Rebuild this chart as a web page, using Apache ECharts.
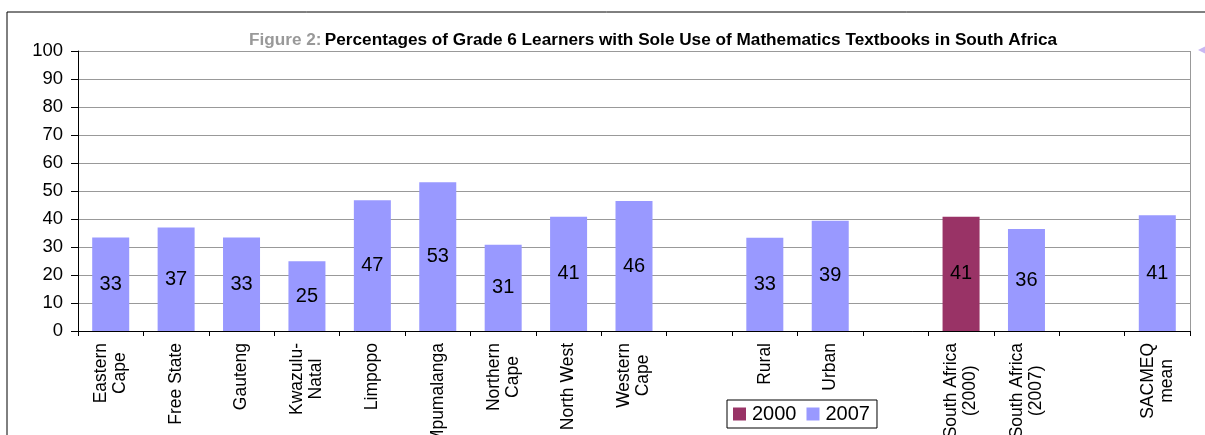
<!DOCTYPE html>
<html>
<head>
<meta charset="utf-8">
<script src="https://cdn.jsdelivr.net/npm/echarts@6/dist/echarts.min.js"></script>
<style>
html,body{margin:0;padding:0;background:#fff;}
#chart{width:1205px;height:435px;}
</style>
</head>
<body>
<div id="chart"></div>
<script>
var categories = ['Eastern\nCape','Free State','Gauteng','Kwazulu-\nNatal','Limpopo','Mpumalanga','Northern\nCape','North West','Western\nCape',' ','Rural','Urban','  ','South Africa\n(2000)','South Africa\n(2007)','   ','SACMEQ\nmean'];
var values2000 = [null,null,null,null,null,null,null,null,null,null,null,null,null,40.8,null,null,null];
var values2007 = [33.4,37.0,33.4,24.9,46.7,53.1,30.8,40.8,46.4,null,33.3,39.4,null,null,36.4,null,41.3];
var yTicks = [0,10,20,30,40,50,60,70,80,90,100];
var seriesNames = ['2000','2007'];

var FONT = '"Liberation Sans", Arial, sans-serif';
var chart = echarts.init(document.getElementById('chart'));
var labelOpt = {
  show: true, position: 'inside', color: '#000', fontSize: 20, fontFamily: FONT,
  formatter: function (p) { return p.value == null ? '' : String(Math.round(p.value)); }
};
chart.setOption({
  animation: false,
  textStyle: { fontFamily: FONT },
  graphic: [
    { type: 'rect', shape: { x: 7, y: 12, width: 1400, height: 600 }, style: { fill: 'none', stroke: '#000', lineWidth: 1 }, silent: true },
    { type: 'polygon', shape: { points: [[1198, 50], [1205, 46.5], [1205, 53.5]] }, style: { fill: '#c9b8f2' }, silent: true },
    { type: 'text', x: 653, y: 40, style: {
        text: '{g|Figure 2:} {b|Percentages of Grade 6 Learners with Sole Use of Mathematics Textbooks in South Africa}',
        align: 'center', verticalAlign: 'middle',
        rich: {
          g: { fontSize: 17.2, fontWeight: 'bold', fill: '#999', fontFamily: FONT },
          b: { fontSize: 17.2, fontWeight: 'bold', fill: '#000', fontFamily: FONT }
        }
      } }
  ],
  legend: {
    data: seriesNames,
    left: 727, top: 400,
    orient: 'horizontal',
    itemWidth: 13, itemHeight: 13, itemGap: 10,
    padding: [4, 7, 4, 6],
    borderColor: '#000', borderWidth: 1, borderRadius: 0,
    icon: 'rect',
    textStyle: { fontSize: 20, color: '#000', fontFamily: FONT, padding: [0, 0, 0, 1] }
  },
  grid: { left: 78, right: 15, top: 51, bottom: 104, show: false, outerBoundsMode: 'none', containLabel: false },
  xAxis: {
    type: 'category',
    data: categories,
    boundaryGap: true,
    axisLine: { show: true, lineStyle: { color: '#000', width: 1 } },
    axisTick: { show: true, alignWithLabel: false, length: 5, lineStyle: { color: '#000' } },
    axisLabel: {
      interval: 0, rotate: 90, margin: 12, color: '#000', fontSize: 17.5, fontFamily: FONT,
      lineHeight: 19,
      formatter: function (v) {
        return v.split('\n').map(function (s) { return '{c|' + s + '}'; }).join('\n');
      },
      rich: { c: { align: 'center', fontSize: 17.5, lineHeight: 19, fontFamily: FONT, color: '#000' } }
    },
    splitLine: { show: false }
  },
  yAxis: {
    type: 'value', min: 0, max: 100, interval: 10,
    axisLine: { show: true, lineStyle: { color: '#000', width: 1 } },
    axisTick: { show: true, inside: false, length: 7, lineStyle: { color: '#000' } },
    axisLabel: { color: '#000', fontSize: 18.5, margin: 15, fontFamily: FONT,
      customValues: yTicks },
    splitLine: { show: true, lineStyle: { color: '#999', width: 1 } }
  },
  series: [
    { name: '2000', type: 'bar', data: values2000, barWidth: 37, barGap: '-100%',
      itemStyle: { color: '#993366' }, label: labelOpt },
    { name: '2007', type: 'bar', data: values2007, barWidth: 37, barGap: '-100%',
      itemStyle: { color: '#9999FF' }, label: labelOpt },
    { name: 'edge', type: 'line', data: [], markLine: { silent: true, symbol: 'none', label: { show: false },
      lineStyle: { color: '#999', type: 'solid', width: 1 },
      data: [[{ xAxis: 16, yAxis: 0, x: 1190.5 }, { xAxis: 16, yAxis: 100, x: 1190.5 }]] } }
  ]
});
</script>
</body>
</html>
